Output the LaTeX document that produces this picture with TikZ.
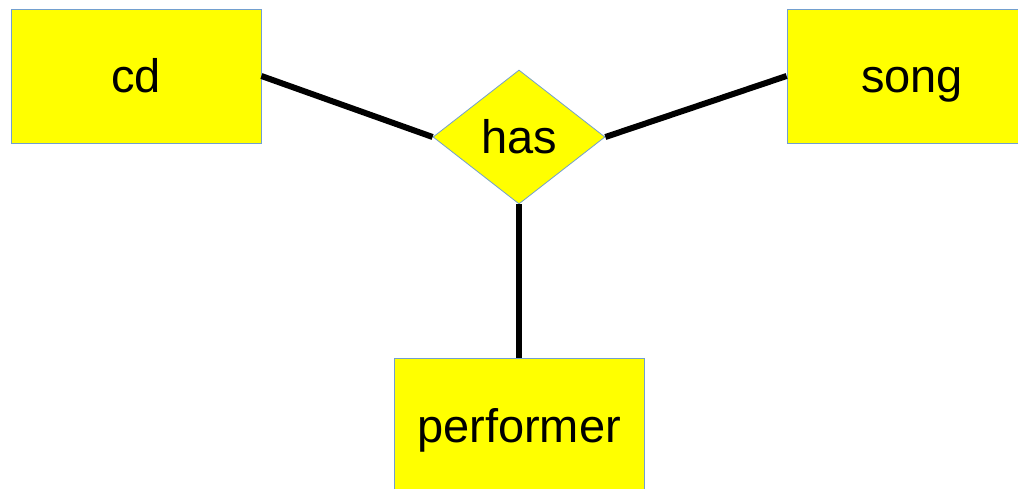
\documentclass[tikz,border=0pt]{standalone}
\usepackage{fontspec}
\setmainfont{Liberation Sans}
\usetikzlibrary{shapes.geometric}
\definecolor{boxline}{HTML}{729FCF}
\definecolor{boxfill}{RGB}{255,255,0}
\tikzset{
  entity/.style={draw=boxline,line width=0.8pt,fill=boxfill,inner sep=0pt,
    text height=34pt,text depth=0pt,
    minimum width=250pt,minimum height=134pt,font=\fontsize{47}{56}\selectfont},
  relation/.style={entity,shape=diamond,minimum width=172pt,minimum height=134pt},
  link/.style={line width=6pt,black}
}
\begin{document}
\begin{tikzpicture}[x=1pt,y=-1pt]
\useasboundingbox (0,0) rectangle (1018,489);
\clip (0,0) rectangle (1018,489);
\node[entity] (cd) at (136,76) {cd};
\node[entity] (song) at (912,76) {song};
\node[entity] (performer) at (519,425) {performer};
\node[relation] (has) at (519,137) {has};
\draw[link] (cd.east) -- (has.west);
\draw[link] (has.east) -- (song.west);
\draw[link] (has.south) -- (performer.north);
\end{tikzpicture}
\end{document}
